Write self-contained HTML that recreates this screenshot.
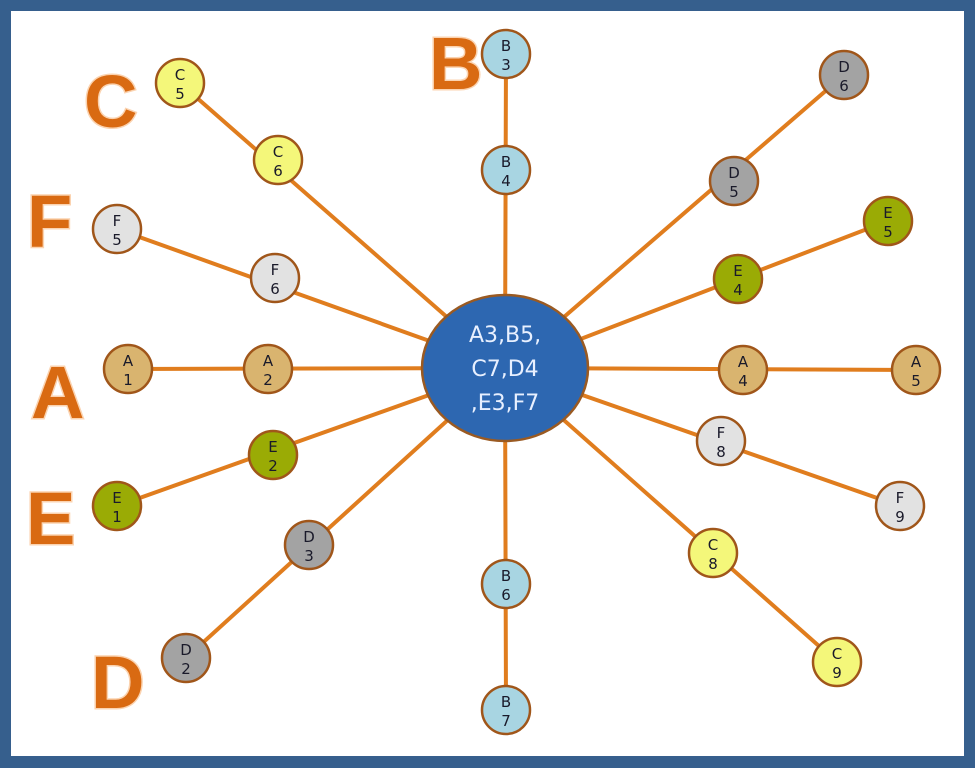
<!DOCTYPE html>
<html><head><meta charset="utf-8"><style>
html,body{margin:0;padding:0;background:#fff}
svg{display:block}
.n text{font-family:"DejaVu Sans","Liberation Sans",sans-serif;font-size:15px;fill:#1a1a2a;text-anchor:middle}
.L{font-family:"Liberation Sans",sans-serif;font-weight:bold;font-size:74px;fill:#d96a12;stroke:#fbd3b0;stroke-width:3;paint-order:stroke}
</style></head><body>
<svg width="975" height="768" viewBox="0 0 975 768">
<rect x="0" y="0" width="975" height="768" fill="#365f8d"/>
<rect x="11" y="11" width="953" height="745" fill="#fff"/>
<g stroke="#e07d1e" stroke-width="4" stroke-linecap="round">
<line x1="505" y1="368" x2="180" y2="83"/>
<line x1="505" y1="368" x2="117" y2="229"/>
<line x1="505" y1="368" x2="128" y2="369"/>
<line x1="505" y1="368" x2="117" y2="506"/>
<line x1="505" y1="368" x2="186" y2="658"/>
<line x1="505" y1="368" x2="506" y2="54"/>
<line x1="505" y1="368" x2="506" y2="710"/>
<line x1="505" y1="368" x2="844" y2="75"/>
<line x1="505" y1="368" x2="888" y2="221"/>
<line x1="505" y1="368" x2="916" y2="370"/>
<line x1="505" y1="368" x2="900" y2="506"/>
<line x1="505" y1="368" x2="837" y2="662"/>
</g>
<ellipse cx="505" cy="368" rx="83" ry="73" fill="#2d67b1" stroke="#9a5a22" stroke-width="2.5"/>
<g font-family="DejaVu Sans, Liberation Sans, sans-serif" font-size="22" fill="#e8f0ff" text-anchor="middle">
<text x="505" y="342">A3,B5,</text>
<text x="505" y="376">C7,D4</text>
<text x="505" y="410">,E3,F7</text>
</g>
<g class="n">
<g><circle cx="180" cy="83" r="24" fill="#f4f77a" stroke="#a0561a" stroke-width="2.5"/><text x="180" y="80">C</text><text x="180" y="99">5</text></g>
<g><circle cx="278" cy="160" r="24" fill="#f4f77a" stroke="#a0561a" stroke-width="2.5"/><text x="278" y="157">C</text><text x="278" y="176">6</text></g>
<g><circle cx="117" cy="229" r="24" fill="#e2e2e2" stroke="#a0561a" stroke-width="2.5"/><text x="117" y="226">F</text><text x="117" y="245">5</text></g>
<g><circle cx="275" cy="278" r="24" fill="#e2e2e2" stroke="#a0561a" stroke-width="2.5"/><text x="275" y="275">F</text><text x="275" y="294">6</text></g>
<g><circle cx="128" cy="369" r="24" fill="#d9b46f" stroke="#a0561a" stroke-width="2.5"/><text x="128" y="366">A</text><text x="128" y="385">1</text></g>
<g><circle cx="268" cy="369" r="24" fill="#d9b46f" stroke="#a0561a" stroke-width="2.5"/><text x="268" y="366">A</text><text x="268" y="385">2</text></g>
<g><circle cx="117" cy="506" r="24" fill="#9aab05" stroke="#a0561a" stroke-width="2.5"/><text x="117" y="503">E</text><text x="117" y="522">1</text></g>
<g><circle cx="273" cy="455" r="24" fill="#9aab05" stroke="#a0561a" stroke-width="2.5"/><text x="273" y="452">E</text><text x="273" y="471">2</text></g>
<g><circle cx="309" cy="545" r="24" fill="#a3a3a3" stroke="#a0561a" stroke-width="2.5"/><text x="309" y="542">D</text><text x="309" y="561">3</text></g>
<g><circle cx="186" cy="658" r="24" fill="#a3a3a3" stroke="#a0561a" stroke-width="2.5"/><text x="186" y="655">D</text><text x="186" y="674">2</text></g>
<g><circle cx="506" cy="54" r="24" fill="#a8d5e2" stroke="#a0561a" stroke-width="2.5"/><text x="506" y="51">B</text><text x="506" y="70">3</text></g>
<g><circle cx="506" cy="170" r="24" fill="#a8d5e2" stroke="#a0561a" stroke-width="2.5"/><text x="506" y="167">B</text><text x="506" y="186">4</text></g>
<g><circle cx="506" cy="584" r="24" fill="#a8d5e2" stroke="#a0561a" stroke-width="2.5"/><text x="506" y="581">B</text><text x="506" y="600">6</text></g>
<g><circle cx="506" cy="710" r="24" fill="#a8d5e2" stroke="#a0561a" stroke-width="2.5"/><text x="506" y="707">B</text><text x="506" y="726">7</text></g>
<g><circle cx="844" cy="75" r="24" fill="#a3a3a3" stroke="#a0561a" stroke-width="2.5"/><text x="844" y="72">D</text><text x="844" y="91">6</text></g>
<g><circle cx="734" cy="181" r="24" fill="#a3a3a3" stroke="#a0561a" stroke-width="2.5"/><text x="734" y="178">D</text><text x="734" y="197">5</text></g>
<g><circle cx="888" cy="221" r="24" fill="#9aab05" stroke="#a0561a" stroke-width="2.5"/><text x="888" y="218">E</text><text x="888" y="237">5</text></g>
<g><circle cx="738" cy="279" r="24" fill="#9aab05" stroke="#a0561a" stroke-width="2.5"/><text x="738" y="276">E</text><text x="738" y="295">4</text></g>
<g><circle cx="743" cy="370" r="24" fill="#d9b46f" stroke="#a0561a" stroke-width="2.5"/><text x="743" y="367">A</text><text x="743" y="386">4</text></g>
<g><circle cx="916" cy="370" r="24" fill="#d9b46f" stroke="#a0561a" stroke-width="2.5"/><text x="916" y="367">A</text><text x="916" y="386">5</text></g>
<g><circle cx="721" cy="441" r="24" fill="#e2e2e2" stroke="#a0561a" stroke-width="2.5"/><text x="721" y="438">F</text><text x="721" y="457">8</text></g>
<g><circle cx="900" cy="506" r="24" fill="#e2e2e2" stroke="#a0561a" stroke-width="2.5"/><text x="900" y="503">F</text><text x="900" y="522">9</text></g>
<g><circle cx="713" cy="553" r="24" fill="#f4f77a" stroke="#a0561a" stroke-width="2.5"/><text x="713" y="550">C</text><text x="713" y="569">8</text></g>
<g><circle cx="837" cy="662" r="24" fill="#f4f77a" stroke="#a0561a" stroke-width="2.5"/><text x="837" y="659">C</text><text x="837" y="678">9</text></g>
</g>
<text class="L" x="84" y="127">C</text>
<text class="L" x="429" y="89">B</text>
<text class="L" x="27" y="247">F</text>
<text class="L" x="31" y="418">A</text>
<text class="L" x="26" y="544">E</text>
<text class="L" x="91" y="708">D</text>
</svg>
</body></html>
